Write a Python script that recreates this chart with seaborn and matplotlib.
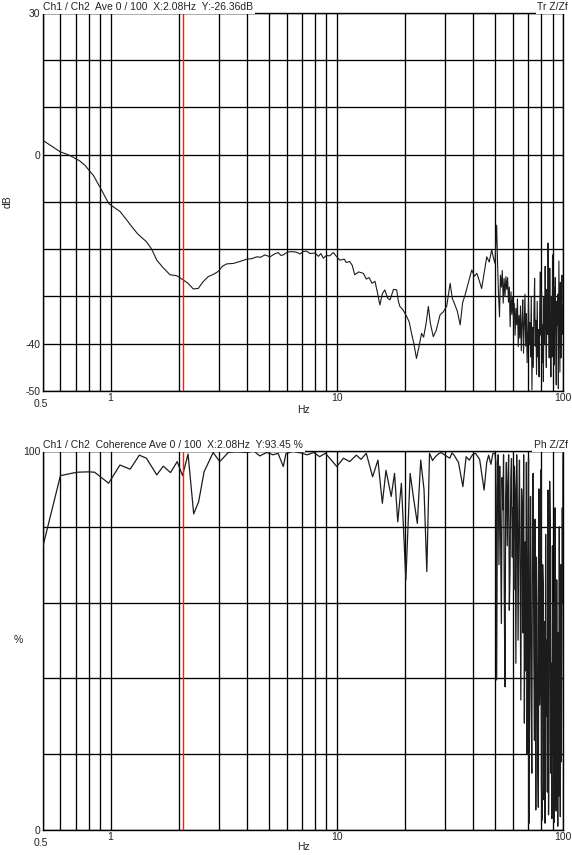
import matplotlib
matplotlib.use("Agg")
import matplotlib.pyplot as plt
import seaborn as sns
from matplotlib.ticker import FixedLocator, NullFormatter

# Transfer function Z/Zf, magnitude in dB
tr_hz = [0.50, 0.55, 0.60, 0.65, 0.70, 0.73, 0.77, 0.80, 0.84, 0.87,
         0.92, 0.98, 1.04, 1.10, 1.17, 1.24, 1.32, 1.44, 1.52, 1.60,
         1.70, 1.83, 1.96, 2.08, 2.20, 2.32, 2.44, 2.56, 2.70, 2.85,
         2.99, 3.12, 3.26, 3.49, 3.72, 4.00, 4.20, 4.43, 4.60, 4.81,
         5.07, 5.30, 5.51, 5.65, 5.80, 6.05, 6.32, 6.60, 6.88, 7.10,
         7.36, 7.60, 8.01, 8.30, 8.50, 8.72, 9.00, 9.30, 9.65, 10.0,
         10.3, 10.8, 11.0, 11.4, 11.7, 12.0, 12.5, 13.1, 13.5, 13.9,
         14.3, 14.75, 15.1, 15.5, 15.9, 16.3, 16.8, 17.2, 17.8, 18.4,
         18.7, 19.0, 19.6, 20.4, 20.9, 21.4, 21.9, 22.5, 23.0, 23.7,
         24.2, 24.8, 25.4, 25.9, 26.7, 27.5, 28.6, 29.5, 30.6, 31.7,
         32.4, 33.3, 34.1, 35.1, 36.0, 36.9, 38.2, 39.5, 40.6, 41.6,
         42.6, 43.7, 44.8, 46.0, 47.2, 48.4, 49.3, 50.05, 50.9, 51.4,
         51.9, 52.4, 52.9, 53.4, 53.9, 54.4, 54.9, 55.4, 55.9, 56.4,
         56.9, 57.4, 57.9, 58.4, 58.9, 59.4, 59.9, 60.4, 60.9, 61.4,
         61.9, 62.4, 62.9, 63.4, 63.9, 64.4, 64.9, 65.4, 65.9, 66.4,
         66.9, 67.4, 67.9, 68.4, 68.9, 69.4, 69.9, 70.4, 70.9, 71.4,
         71.9, 72.4, 72.9, 73.4, 73.9, 74.4, 74.9, 75.4, 75.9, 76.4,
         76.9, 77.4, 77.9, 78.4, 78.9, 79.4, 79.9, 80.4, 80.9, 81.4,
         81.9, 82.4, 82.9, 83.4, 83.9, 84.4, 84.9, 85.4, 85.9, 86.4,
         86.9, 87.4, 87.9, 88.4, 88.9, 89.4, 89.9, 90.4, 90.9, 91.4,
         91.9, 92.4, 92.9, 93.4, 93.9, 94.4, 94.9, 95.4, 95.9, 96.4,
         96.9, 97.4, 97.9, 98.4, 98.9, 99.4, 100.0]
tr_db = [3.1, 1.8, 0.6, 0.0, -0.8, -1.3, -2.2, -3.2, -4.4, -5.7,
         -7.8, -10.3, -11.2, -12.0, -13.6, -15.2, -16.8, -18.4, -20.0, -22.3,
         -23.8, -25.4, -25.6, -26.4, -27.2, -28.4, -28.3, -26.9, -25.8, -25.3,
         -24.7, -23.6, -23.1, -23.0, -22.6, -22.1, -22.0, -21.6, -21.7, -21.2,
         -21.6, -21.0, -20.7, -21.3, -21.2, -20.6, -20.5, -20.6, -21.0, -20.5,
         -20.4, -20.9, -20.8, -21.5, -20.9, -21.9, -21.3, -21.4, -20.7, -21.6,
         -22.3, -22.1, -22.8, -22.6, -23.4, -25.4, -24.8, -25.1, -26.3, -26.0,
         -27.2, -26.8, -29.0, -31.8, -29.4, -28.6, -30.4, -30.7, -28.5, -28.6,
         -30.9, -32.1, -32.8, -34.3, -35.4, -37.8, -39.9, -43.1, -41.0, -37.8,
         -38.6, -35.8, -32.1, -35.6, -38.5, -37.2, -33.9, -33.3, -32.1, -27.2,
         -30.4, -31.8, -33.1, -36.0, -31.3, -29.7, -27.0, -24.4, -25.7, -25.1,
         -26.6, -28.3, -25.0, -21.6, -22.7, -20.1, -21.9, -23.0, -14.9, -23.3,
         -30.0, -34.3, -25.5, -28.0, -24.5, -31.4, -26.2, -30.0, -25.8, -28.5,
         -26.0, -31.2, -28.0, -36.4, -29.0, -33.8, -30.0, -35.0, -31.5, -38.2,
         -32.5, -36.0, -30.5, -40.6, -34.0, -38.8, -32.0, -41.5, -35.5, -30.7,
         -42.0, -36.0, -29.5, -40.5, -33.6, -44.0, -38.0, -31.0, -40.0, -35.5,
         -42.8, -30.0, -49.8, -36.5, -45.0, -33.0, -26.2, -40.5, -35.0, -46.5,
         -31.0, -42.8, -37.0, -47.0, -33.0, -24.8, -38.2, -29.0, -44.0, -36.0,
         -48.0, -30.2, -40.0, -23.6, -36.0, -45.0, -28.5, -38.0, -18.7, -34.7,
         -43.0, -24.0, -39.0, -47.0, -30.0, -42.8, -21.2, -37.5, -28.0, -44.5,
         -33.0, -26.0, -41.5, -48.7, -31.0, -36.0, -29.5, -49.5, -22.5, -35.0,
         -46.0, -27.0, -43.0, -33.0, -25.5, -38.0, -32.0]

# Coherence, %
coh_hz = [0.50, 0.60, 0.71, 0.80, 0.85, 0.98, 1.10, 1.22, 1.34, 1.44,
          1.60, 1.71, 1.84, 1.97, 2.08, 2.20, 2.33, 2.45, 2.59, 2.84,
          3.04, 3.31, 3.60, 4.02, 4.30, 4.56, 4.90, 5.23, 5.50, 5.80,
          5.96, 6.40, 6.90, 7.40, 7.90, 8.40, 8.90, 9.30, 10.0, 10.7,
          11.4, 12.2, 12.8, 13.5, 14.4, 15.2, 15.9, 16.5, 17.4, 18.0,
          18.6, 19.3, 20.2, 21.1, 21.9, 22.7, 23.5, 24.3, 25.0, 25.7,
          26.5, 27.3, 28.1, 29.0, 30.2, 31.6, 32.3, 33.0, 34.5, 36.1,
          37.3, 38.5, 39.8, 41.0, 42.8, 44.8, 46.0, 46.9, 48.0, 49.0,
          50.0, 50.5, 50.9, 51.3, 51.7, 52.1, 52.5, 52.9, 53.4, 53.8,
          54.2, 54.6, 55.0, 55.4, 55.8, 56.2, 56.7, 57.1, 57.5, 57.9,
          58.3, 58.8, 59.2, 59.7, 60.1, 60.6, 61.0, 61.5, 61.9, 62.4,
          62.9, 63.3, 63.8, 64.2, 64.7, 65.1, 65.6, 66.1, 66.5, 67.0,
          67.5, 68.0, 68.4, 68.9, 69.4, 69.9, 70.4, 70.8, 71.3, 71.8,
          72.3, 72.8, 73.3, 73.8, 74.3, 74.8, 75.3, 75.8, 76.3, 76.8,
          77.3, 77.8, 78.3, 78.8, 79.3, 79.8, 80.3, 80.8, 81.3, 81.8,
          82.3, 82.8, 83.3, 83.8, 84.3, 84.8, 85.3, 85.8, 86.3, 86.8,
          87.3, 87.8, 88.3, 88.8, 89.3, 89.8, 90.3, 90.8, 91.3, 91.8,
          92.3, 92.8, 93.3, 93.8, 94.3, 94.8, 95.3, 95.8, 96.3, 96.8,
          97.3, 97.8, 98.3, 98.8, 99.3, 99.7, 100.0]
coh_pct = [74.4, 93.5, 94.4, 94.5, 94.4, 91.5, 96.3, 95.2, 98.9, 98.1,
           93.7, 96.0, 94.3, 97.2, 93.5, 99.2, 83.4, 86.6, 94.5, 99.6,
           97.2, 99.6, 99.8, 99.6, 100.0, 98.7, 99.6, 99.0, 99.4, 95.9,
           99.3, 99.9, 99.5, 99.0, 99.6, 98.5, 99.4, 98.1, 95.9, 98.1,
           97.2, 98.9, 97.8, 99.4, 93.2, 97.6, 86.2, 94.9, 88.0, 94.1,
           81.3, 91.5, 66.0, 94.1, 87.1, 80.9, 97.6, 89.8, 68.2, 99.4,
           97.5, 98.5, 99.2, 99.6, 98.8, 98.1, 99.5, 98.9, 97.0, 90.6,
           98.5, 97.6, 99.0, 99.4, 97.8, 89.7, 97.0, 98.9, 96.5, 99.4,
           99.4, 97.0, 39.6, 90.0, 99.0, 70.0, 96.0, 81.8, 54.5, 93.0,
           84.5, 99.0, 62.0, 37.8, 88.0, 97.0, 75.0, 91.7, 99.0, 58.0,
           67.8, 93.0, 98.0, 72.0, 85.0, 63.4, 96.0, 89.7, 44.0, 99.0,
           80.0, 50.1, 85.0, 97.6, 60.0, 34.3, 90.0, 84.5, 52.0, 99.0,
           28.2, 76.0, 42.0, 97.0, 20.0, 67.8, 98.0, 1.8, 55.0, 88.0,
           35.0, 15.0, 88.0, 94.1, 47.0, 23.7, 82.0, 5.3, 72.0, 58.9,
           18.0, 6.0, 90.0, 33.0, 41.4, 95.0, 12.0, 2.6, 70.0, 63.4,
           8.0, 55.0, 1.8, 78.0, 30.0, 50.1, 10.0, 89.7, 4.0, 23.7,
           92.0, 80.9, 15.0, 44.0, 3.0, 75.0, 20.0, 60.0, 2.0, 38.0,
           85.0, 12.0, 5.0, 66.0, 28.0, 1.0, 52.0, 9.0, 80.0, 30.0,
           3.5, 70.0, 18.0, 45.0, 85.0, 60.0, 99.4]

cursor_hz = 2.08
grid_hz = [0.5, 0.6, 0.7, 0.8, 0.9, 1, 2, 3, 4, 5, 6, 7, 8, 9,
           10, 20, 30, 40, 50, 60, 70, 80, 90, 100]
x_ticks = [1, 10, 100]
x_labels = ["1", "10", "100"]

W, H = 572, 855


def fx(px):
    return px / W


def fy(py):
    return 1 - py / H


sns.set_style("white")
plt.rcParams["font.family"] = ["Liberation Sans", "DejaVu Sans"]
plt.rcParams["font.size"] = 7.5

fig = plt.figure(figsize=(W / 100, H / 100), dpi=100)
ax_tr = fig.add_axes([fx(42.5), fy(391), fx(563) - fx(42.5), (391 - 13) / H])
ax_coh = fig.add_axes([fx(42.5), fy(830), fx(563) - fx(42.5), (830 - 451) / H])


def draw_panel(ax, freq, vals, ylim, yticks, ylabels, lw):
    sns.lineplot(x=freq, y=vals, ax=ax, color="#1c1c1c", lw=lw,
                 estimator=None, sort=False, zorder=3)
    ax.set_xscale("log")
    ax.set_xlim(0.5, 100)
    ax.set_ylim(*ylim)
    ax.xaxis.set_major_locator(FixedLocator(x_ticks))
    ax.xaxis.set_minor_locator(FixedLocator(grid_hz))
    ax.xaxis.set_minor_formatter(NullFormatter())
    ax.set_xticklabels(x_labels)
    ax.set_yticks(yticks)
    ax.set_yticklabels(ylabels)
    ax.set_xlabel("")
    ax.set_ylabel("")
    ax.set_axisbelow(True)
    ax.grid(True, which="both", color="black", lw=0.95)
    ax.tick_params(which="both", length=0, pad=1.5, labelsize=7.5, colors="#222222")
    for s in ax.spines.values():
        s.set_color("black")
        s.set_linewidth(1.0)
    ax.axvline(cursor_hz, color="#e8201c", lw=1.0, zorder=4)
    ax.annotate("0.5", xy=(0.5, 0), xycoords=("data", "axes fraction"),
                xytext=(-2, -13), textcoords="offset pixels",
                ha="center", va="center", fontsize=7.5, color="#222222")


draw_panel(ax_tr, tr_hz, tr_db, (-50, 30), list(range(-50, 31, 10)),
           ["-50", "-40", "", "", "", "0", "", "", "30"], 0.8)
draw_panel(ax_coh, coh_hz, coh_pct, (0, 100), [0, 20, 40, 60, 80, 100],
           ["0", "", "", "", "", "100"], 0.9)

box = dict(facecolor="white", edgecolor="none", pad=1.2)
fig.text(fx(43), fy(7), "Ch1 / Ch2  Ave 0 / 100  X:2.08Hz  Y:-26.36dB",
         ha="left", va="center", fontsize=7.5, color="#222222", bbox=box, zorder=10)
fig.text(fx(568), fy(7), "Tr Z/Zf", ha="right", va="center", fontsize=7.5,
         color="#222222", bbox=box, zorder=10)
fig.text(fx(43), fy(445), "Ch1 / Ch2  Coherence Ave 0 / 100  X:2.08Hz  Y:93.45 %",
         ha="left", va="center", fontsize=7.5, color="#222222", bbox=box, zorder=10)
fig.text(fx(568), fy(445), "Ph Z/Zf", ha="right", va="center", fontsize=7.5,
         color="#222222", bbox=box, zorder=10)

fig.text(fx(303), fy(410), "Hz", ha="center", va="center", fontsize=7.5, color="#222222")
fig.text(fx(303), fy(847), "Hz", ha="center", va="center", fontsize=7.5, color="#222222")
fig.text(fx(8), fy(202), "dB", ha="center", va="center", rotation=90,
         fontsize=7.5, color="#222222")
fig.text(fx(18), fy(640), "%", ha="center", va="center", fontsize=7.5, color="#222222")

fig.savefig("out.png", dpi=100, facecolor="white")
